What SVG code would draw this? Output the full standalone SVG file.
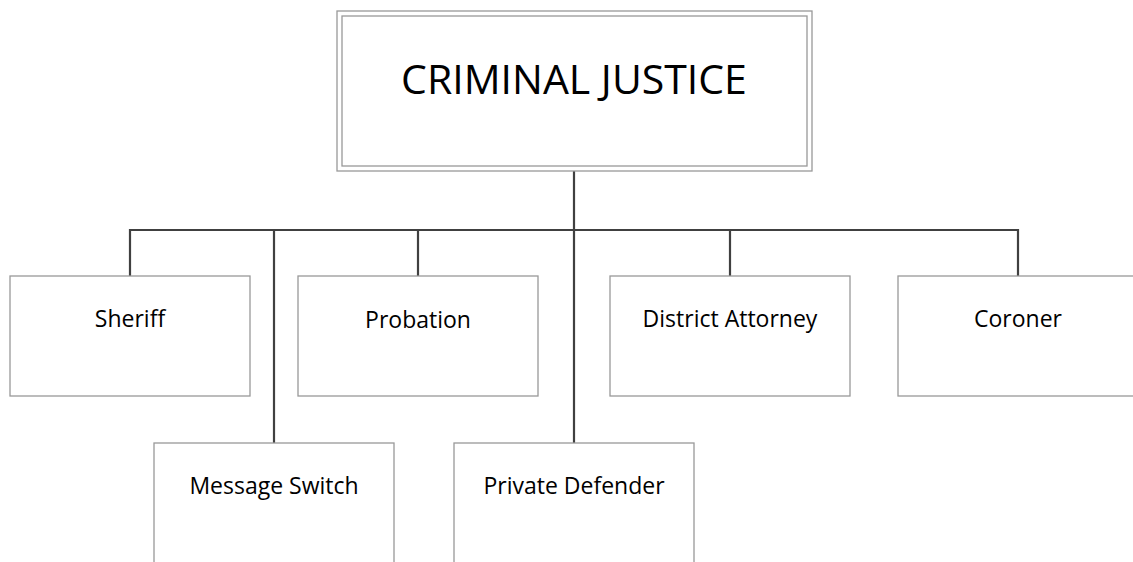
<svg xmlns="http://www.w3.org/2000/svg" width="1133" height="562" viewBox="0 0 1133 562">
  <style>
    .box { fill: #ffffff; stroke: #999999; stroke-width: 1.3; }
    .frame { fill: none; stroke: #999999; stroke-width: 1.3; }
    .link { fill: none; stroke: #404040; stroke-width: 2.2; }
    .title { font-family: "Open Sans", "Liberation Sans", sans-serif; font-size: 41px; fill: #000000; text-anchor: middle; }
    .label { font-family: "Open Sans", "Liberation Sans", sans-serif; font-size: 23px; fill: #000000; text-anchor: middle; }
  </style>
  <rect width="1133" height="562" fill="#ffffff"/>

  <!-- connectors -->
  <g id="connectors">
    <path class="link" d="M574 171 V443"/>
    <path class="link" d="M130 276 V230 H1018 V276"/>
    <path class="link" d="M274 230 V443"/>
    <path class="link" d="M418 230 V276"/>
    <path class="link" d="M730 230 V276"/>
  </g>

  <!-- top node -->
  <g id="criminal-justice">
    <rect class="box" x="337" y="11" width="475" height="160"/>
    <rect class="frame" x="342" y="16" width="465" height="150"/>
    <text class="title" x="574" y="94">CRIMINAL JUSTICE</text>
  </g>

  <!-- first row -->
  <g id="sheriff">
    <rect class="box" x="10" y="276" width="240" height="120"/>
    <text class="label" x="130" y="327">Sheriff</text>
  </g>
  <g id="probation">
    <rect class="box" x="298" y="276" width="240" height="120"/>
    <text class="label" x="418" y="328">Probation</text>
  </g>
  <g id="district-attorney">
    <rect class="box" x="610" y="276" width="240" height="120"/>
    <text class="label" x="730" y="327">District Attorney</text>
  </g>
  <g id="coroner">
    <rect class="box" x="898" y="276" width="240" height="120"/>
    <text class="label" x="1018" y="327">Coroner</text>
  </g>

  <!-- second row -->
  <g id="message-switch">
    <rect class="box" x="154" y="443" width="240" height="140"/>
    <text class="label" x="274" y="494">Message Switch</text>
  </g>
  <g id="private-defender">
    <rect class="box" x="454" y="443" width="240" height="140"/>
    <text class="label" x="574" y="494">Private Defender</text>
  </g>
</svg>
